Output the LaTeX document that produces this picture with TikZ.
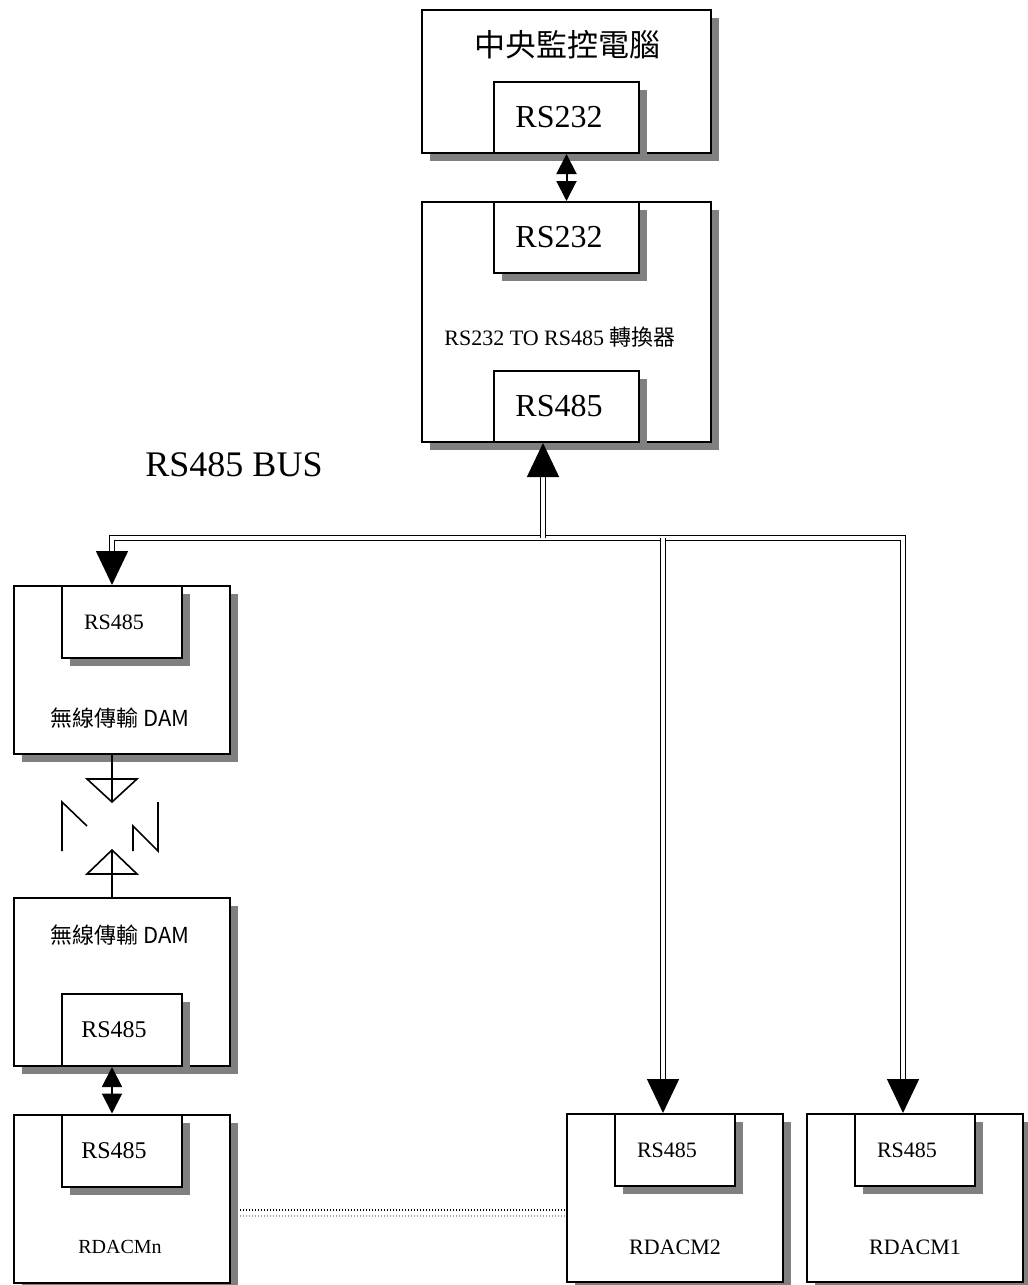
\documentclass[tikz,border=0pt]{standalone}
\usepackage{fontspec}
\setmainfont{Liberation Serif}
\newfontfamily\cjkfont{Noto Sans CJK TC}
\usetikzlibrary{arrows.meta, shadows}

\tikzset{
    % Box styles - sharp corners, grey drop shadow
    unitbox/.style={
        rectangle,
        draw=black,
        fill=white,
        line width=1pt,
        drop shadow={shadow xshift=4pt, shadow yshift=-4pt, fill=gray, opacity=1},
        minimum width=108pt,
        minimum height=84pt,
        inner sep=0pt
    },
    bigbox/.style={
        unitbox,
        minimum width=144.5pt,
        minimum height=71.5pt
    },
    portbox/.style={
        unitbox,
        minimum width=60pt,
        minimum height=36pt,
        font=\fontsize{11}{13}\selectfont,
        execute at end node={\hspace*{8pt}}
    },
    bigport/.style={
        unitbox,
        minimum width=72.5pt,
        minimum height=35.5pt,
        font=\fontsize{16}{19}\selectfont,
        execute at end node={\hspace*{7.5pt}}
    },
    boxlabel/.style={
        font=\fontsize{11}{13}\selectfont
    },
    damlabel/.style={
        font=\cjkfont\fontsize{11}{13}\selectfont
    },
    % Arrow styles
    linkarrow/.style={
        <->,
        >={Triangle[length=10pt,width=10pt]},
        line width=1pt
    },
    busline/.style={
        ->,
        >={Triangle[length=17pt,width=16pt]},
        double,
        double distance=1.6pt,
        line width=0.7pt
    },
    antenna/.style={
        line width=0.8pt
    },
    dotline/.style={
        line width=0.6pt,
        dash pattern=on 0.6pt off 0.9pt
    }
}

\begin{document}
\begin{tikzpicture}[x=0.5pt, y=-0.5pt]
    \useasboundingbox (0,0) rectangle (1028,1285);

    % Central computer
    \node[bigbox] (pc) at (566.5,81.5) {};
    \node[font=\cjkfont\fontsize{15.5}{18}\selectfont] (pclabel) at (567,45) {中央監控電腦};
    \node[bigport, anchor=south] (pc232) at (pc.south) {RS232};

    % Converter
    \node[bigbox, minimum height=120pt] (conv) at (566.5,322) {};
    \node[bigport, anchor=north] (conv232) at (conv.north) {RS232};
    \node[bigport, anchor=south] (conv485) at (conv.south) {RS485};
    \node[boxlabel] (convlabel) at (560,337) {RS232 TO RS485 {\cjkfont 轉換器}};

    \draw[linkarrow] (pc232.south) -- (conv232.north);

    % Bus
    \node[font=\fontsize{18}{21}\selectfont] (buslabel) at (234,465) {RS485 BUS};

    % Wireless DAM pair
    \node[unitbox] (dam1) at (122,670) {};
    \node[portbox, anchor=north] (dam1in) at (dam1.north) {RS485};
    \node[damlabel] (dam1label) at (120,718) {無線傳輸 DAM};

    \node[unitbox] (dam2) at (122,982) {};
    \node[portbox, anchor=south, font=\fontsize{12}{14}\selectfont] (dam2in) at (dam2.south) {RS485};
    \node[damlabel] (dam2label) at (120,935) {無線傳輸 DAM};

    % RDACM units
    \node[unitbox] (rdn) at (122,1198.5) {};
    \node[portbox, anchor=north, font=\fontsize{12}{14}\selectfont] (rdnin) at (rdn.north) {RS485};
    \node[font=\fontsize{10}{12}\selectfont] (rdnlabel) at (120,1247) {RDACMn};

    \node[unitbox] (rd2) at (675,1198) {};
    \node[portbox, anchor=north] (rd2in) at (rd2.north) {RS485};
    \node[boxlabel] (rd2label) at (675,1247) {RDACM2};

    \node[unitbox] (rd1) at (915,1198) {};
    \node[portbox, anchor=north] (rd1in) at (rd1.north) {RS485};
    \node[boxlabel] (rd1label) at (915,1247) {RDACM1};

    % Bus lines
    \coordinate (bl) at (112,538);
    \coordinate (bc) at (543,538);
    \coordinate (b2) at (663,538);
    \coordinate (br) at (903,538);
    \draw[busline, <->] (bl |- dam1in.north) -- (bl) -- (br) -- (br |- rd1in.north);
    \draw[busline] (bc) -- (bc |- conv485.south);
    \draw[busline] (b2) -- (b2 |- rd2in.north);

    % Radio link
    \coordinate (ax) at (112,0);
    \draw[antenna] (ax |- dam1.south) -- (112,802);
    \draw[antenna] (87,779) -- (137,779) -- (112,802) -- cycle;
    \draw[antenna] (112,850) -- (87,874) -- (137,874) -- cycle;
    \draw[antenna] (112,850) -- (ax |- dam2.north);
    \draw[antenna] (62,851) -- (62,802) -- (87,826);
    \draw[antenna] (133,851) -- (133,826) -- (158,851) -- (158,802);

    \draw[linkarrow] (ax |- dam2in.south) -- (ax |- rdnin.north);

    % Dotted link between RDACMn and RDACM2
    \coordinate (d1) at (240,1210);
    \coordinate (d2) at (240,1216);
    \draw[dotline] (d1) -- (d1 -| rd2.west);
    \draw[dotline, gray!70] (d2) -- (d2 -| rd2.west);
\end{tikzpicture}
\end{document}
